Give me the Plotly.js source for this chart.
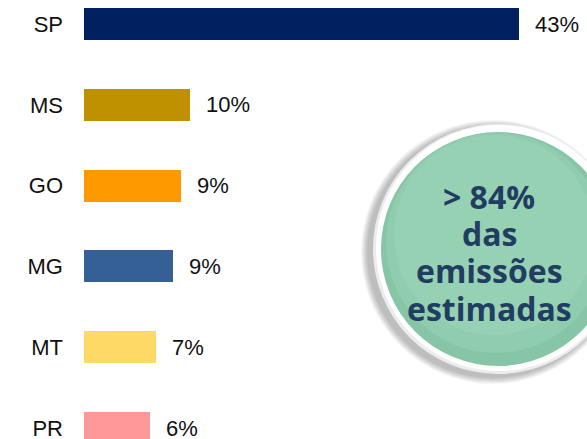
<!DOCTYPE html>
<html>
<head>
<meta charset="utf-8">
<script src="https://cdn.plot.ly/plotly-3.0.1.min.js"></script>
<style>html,body{margin:0;padding:0;background:#fff;}#chart{width:587px;height:439px;}</style>
</head>
<body>
<div id="chart"></div>
<script>
// Data
const states = ["SP", "MS", "GO", "MG", "MT", "PR"];
const shares = [43, 10.5, 9.6, 8.8, 7.1, 6.5];
const shareLabels = ["43%", "10%", "9%", "9%", "7%", "6%"];
const barColors = ["#002060", "#BF9000", "#FF9900", "#355F97", "#FFD966", "#FF9999"];
const calloutLines = ["> 84%", "das", "emissões", "estimadas"];

const W = 587, H = 439, ML = 84;
const PW = W - ML, PH = H;
function px2x(p) { return (p - ML) / PW; }
function px2y(p) { return 1 - p / PH; }
function circ(cx, cy, r, fill, opacity, line) {
  return {
    type: "circle", xref: "paper", yref: "paper", layer: "above",
    x0: px2x(cx - r), x1: px2x(cx + r), y0: px2y(cy + r), y1: px2y(cy - r),
    fillcolor: fill, opacity: opacity,
    line: line || { width: 0 }
  };
}

const cx = 498, cy = 249;
const shapes = [];
// soft shadow (left / bottom-left)
for (let i = 7; i >= 1; i--) {
  shapes.push(circ(cx - 5, cy + 3, 125 + i, "#000000", 0.04));
}
// white rim
shapes.push(circ(cx, cy, 125, "#ececec", 1));
shapes.push(circ(cx + 1, cy - 1, 123, "#ffffff", 1));
// green disc
shapes.push(circ(cx, cy, 117, "#86c5a5", 1));
// light gradient overlays toward top
shapes.push(circ(cx - 2, cy - 6, 110, "#9ad3b8", 0.5));
shapes.push(circ(cx - 4, cy - 14, 100, "#a0d7bd", 0.45));

const trace = {
  type: "bar",
  orientation: "h",
  y: states,
  x: shares,
  marker: { color: barColors, line: { width: 0 } },
  width: 0.395,
  hoverinfo: "skip"
};

const labelFont = { family: "Liberation Sans, Arial, sans-serif", size: 22, color: "#111111" };
const annotations = states.map((s, i) => ({
  x: shares[i], y: s, xref: "x", yref: "y",
  text: shareLabels[i], showarrow: false,
  xanchor: "left", yanchor: "middle", xshift: 14,
  font: labelFont
}));
const lineCenters = [196, 233, 270, 308];
calloutLines.forEach((t, i) => {
  annotations.push({
    x: px2x(489), y: px2y(lineCenters[i]), xref: "paper", yref: "paper",
    text: t, showarrow: false, xanchor: "center", yanchor: "middle",
    height: 34, valign: "middle", borderpad: 0,
    font: { family: "Open Sans, sans-serif", size: 32, color: "#213e62", weight: "bold" }
  });
});

const layout = {
  width: W, height: H,
  margin: { l: ML, r: 0, t: 0, b: 0, pad: 0 },
  paper_bgcolor: "#ffffff", plot_bgcolor: "#ffffff",
  showlegend: false,
  bargap: 0,
  xaxis: { range: [0, PW / 10.12], visible: false, fixedrange: true },
  yaxis: {
    type: "category", categoryorder: "array", categoryarray: states,
    range: [5.135, -0.297], showgrid: false, zeroline: false, showline: false,
    ticks: "", ticklabelstandoff: 20,
    tickfont: labelFont
  },
  shapes: shapes,
  annotations: annotations
};

Plotly.newPlot("chart", [trace], layout, { displayModeBar: false, staticPlot: true });
</script>
</body>
</html>
